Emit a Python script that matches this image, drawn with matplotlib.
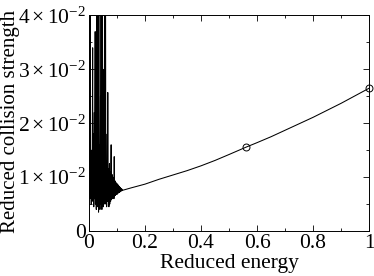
import matplotlib
matplotlib.use("Agg")
import matplotlib.pyplot as plt
from matplotlib.ticker import MultipleLocator, FixedLocator, FixedFormatter

plt.rcParams['font.family'] = ['Liberation Serif', 'DejaVu Serif']
plt.rcParams['mathtext.fontset'] = 'custom'
plt.rcParams['mathtext.rm'] = 'Liberation Serif'
plt.rcParams['mathtext.it'] = 'Liberation Serif:italic'

# resonance region (values above 0.04 are clipped)
res_x = [0.000, 0.002, 0.003, 0.004, 0.005, 0.007, 0.008, 0.010, 0.011, 0.013,
         0.014, 0.016, 0.017, 0.019, 0.020, 0.022, 0.023, 0.025, 0.026, 0.028,
         0.029, 0.030, 0.031, 0.033, 0.034, 0.035, 0.036, 0.038, 0.039, 0.041,
         0.042, 0.043, 0.044, 0.045, 0.046, 0.048, 0.049, 0.050, 0.051, 0.053,
         0.054, 0.056, 0.057, 0.059, 0.060, 0.062, 0.063, 0.065, 0.066, 0.067,
         0.068, 0.070, 0.071, 0.073, 0.074, 0.076, 0.077, 0.079, 0.080, 0.082,
         0.083, 0.085, 0.086, 0.088, 0.089, 0.090, 0.091, 0.093, 0.094, 0.096,
         0.097, 0.099, 0.100, 0.102, 0.103, 0.105, 0.106, 0.108, 0.109, 0.111,
         0.112, 0.114, 0.115, 0.117, 0.119, 0.121]
res_y = [0.0080, 0.0450, 0.0060, 0.0450, 0.0070, 0.0120, 0.0050, 0.0150, 0.0065, 0.0340,
         0.0055, 0.0180, 0.0045, 0.0220, 0.0060, 0.0370, 0.0050, 0.0140, 0.0040, 0.0450,
         0.0060, 0.0450, 0.0045, 0.0200, 0.0035, 0.0450, 0.0055, 0.0160, 0.0040, 0.0250,
         0.0050, 0.0450, 0.0060, 0.0450, 0.0040, 0.0450, 0.0055, 0.0300, 0.0045, 0.0150,
         0.0050, 0.0450, 0.0060, 0.0450, 0.0050, 0.0130, 0.0045, 0.0180, 0.0055, 0.0257,
         0.0060, 0.0115, 0.0045, 0.0125, 0.0050, 0.0110, 0.0055, 0.0160, 0.0058, 0.0105,
         0.0060, 0.0100, 0.0062, 0.0095, 0.0060, 0.0138, 0.0065, 0.0093, 0.0066, 0.0090,
         0.0068, 0.0088, 0.0068, 0.0087, 0.0070, 0.0085, 0.0071, 0.0083, 0.0072, 0.0081,
         0.0073, 0.0079, 0.0074, 0.0078, 0.0075, 0.0076]

# smooth part above the resonances
smooth_x = [0.123, 0.15, 0.2, 0.25, 0.3, 0.35, 0.4, 0.45, 0.5, 0.561, 0.6, 0.65,
            0.7, 0.75, 0.8, 0.85, 0.9, 0.95, 1.0]
smooth_y = [0.0076, 0.0080, 0.0087, 0.0096, 0.0104, 0.0112, 0.0121, 0.0131, 0.0142,
            0.01557, 0.0164, 0.0175, 0.0187, 0.0199, 0.0211, 0.0224, 0.0237, 0.0251,
            0.0265]

# calculated points (circles)
pts_x = [0.561, 1.0]
pts_y = [0.01557, 0.0265]

xticks = [0, 0.2, 0.4, 0.6, 0.8, 1.0]
xlabels = ['0', '0.2', '0.4', '0.6', '0.8', '1']
yticks = [0, 0.01, 0.02, 0.03, 0.04]
ylabels = ['0', r'$1\times10^{-2}$', r'$2\times10^{-2}$', r'$3\times10^{-2}$', r'$4\times10^{-2}$']

fig = plt.figure(figsize=(3.74, 2.76), dpi=100)
ax = fig.add_axes([0.238, 0.163, 0.749, 0.781])

ax.plot(res_x + smooth_x, res_y + smooth_y, color='black', lw=0.75)
ax.plot(pts_x, pts_y, 'o', mfc='none', mec='black', ms=5, mew=0.7, clip_on=False)

ax.set_xlim(0, 1)
ax.set_ylim(0, 0.04)
ax.xaxis.set_major_locator(FixedLocator(xticks))
ax.xaxis.set_major_formatter(FixedFormatter(xlabels))
ax.xaxis.set_minor_locator(MultipleLocator(0.1))
ax.yaxis.set_major_locator(FixedLocator(yticks))
ax.yaxis.set_major_formatter(FixedFormatter(ylabels))
ax.yaxis.set_minor_locator(MultipleLocator(0.005))
ax.tick_params(which='both', direction='in', top=True, right=True, labelsize=15.5, width=0.6)
ax.tick_params(which='major', length=4.5, pad=2)
ax.tick_params(which='minor', length=2.3)
for s in ax.spines.values():
    s.set_linewidth(0.7)

ax.set_xlabel('Reduced energy', fontsize=15.5, labelpad=1)
ax.set_ylabel('Reduced collision strength', fontsize=15)
ax.yaxis.set_label_coords(-0.248, 0.51)

fig.savefig('out.png', dpi=100)
